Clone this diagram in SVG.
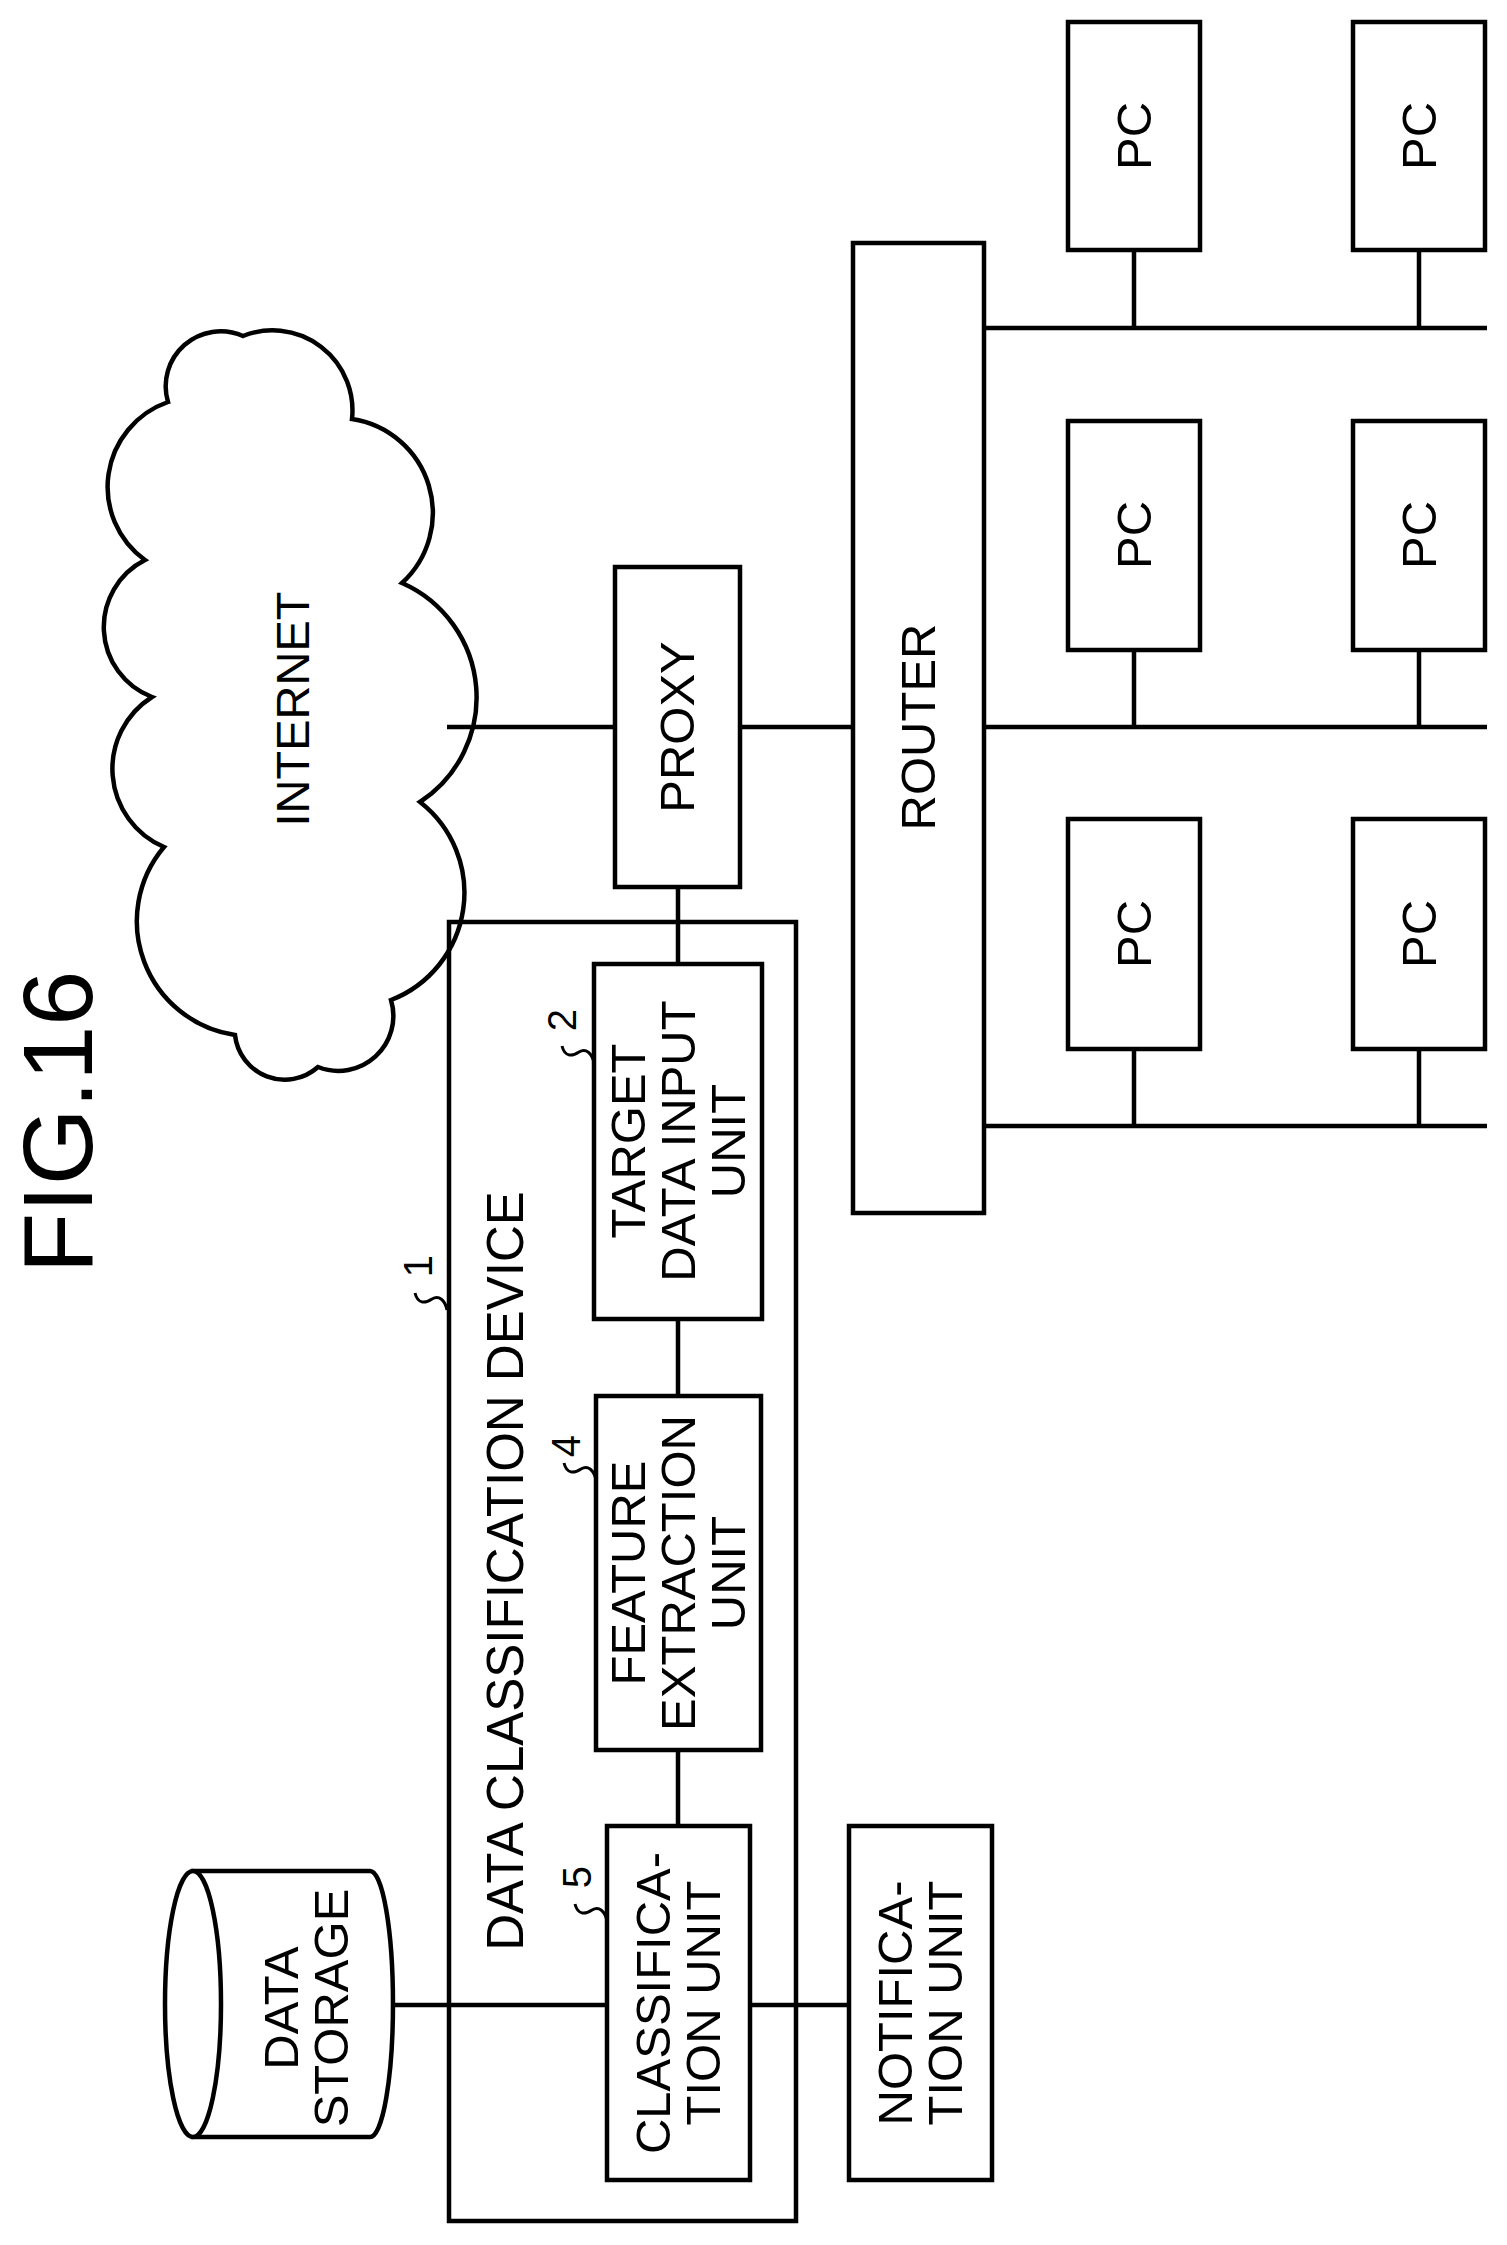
<svg xmlns="http://www.w3.org/2000/svg" width="1507" height="2245" viewBox="0 0 1507 2245">
<style>
.b{fill:#fff;stroke:#000;stroke-width:4.5}
.l{fill:none;stroke:#000;stroke-width:4.5}
.s{fill:none;stroke:#000;stroke-width:3}
text{font-family:"Liberation Sans",Arial,sans-serif;font-size:49px;text-anchor:middle;dominant-baseline:central;fill:#000}
.d{font-size:40px}
</style>
<rect width="1507" height="2245" fill="#fff"/>
<text transform="translate(57,1122) rotate(-90)" style="font-size:99px">FIG.16</text>
<g id="connectors">
<path class="l" d="M447,727H615M740,727H853M678,887V964M678,1319V1396M678,1750V1826M393,2005H607M750,2005H849"/>
<path class="l" d="M984,328H1487M984,727H1487M984,1126H1487M1134,250V328M1419,250V328M1134,650V727M1419,650V727M1134,1049V1126M1419,1049V1126"/>
</g>
<g id="internet">
<path class="l" d="M168,402 A55,55 0 0 1 243,336 A80,80 0 0 1 352,419 A95,95 0 0 1 402,583 A125,125 0 0 1 420,802 A115,115 0 0 1 391,1000 A55,55 0 0 1 318,1067 A50,50 0 0 1 235,1035 A115,115 0 0 1 164,847 A85,85 0 0 1 152,697 A75,75 0 0 1 145,560 A90,90 0 0 1 168,402 Z"/>
<text transform="translate(292,709) rotate(-90)" style="font-size:47px">INTERNET</text>
</g>
<g id="proxy"><rect class="b" x="615" y="567" width="125" height="320"/><text transform="translate(677,727) rotate(-90)">PROXY</text></g>
<g id="router"><rect class="b" x="853" y="243" width="131" height="970"/><text transform="translate(918,727) rotate(-90)">ROUTER</text></g>
<g id="pc1"><rect class="b" x="1068" y="22" width="132" height="228"/><text transform="translate(1134,136) rotate(-90)">PC</text></g>
<g id="pc2"><rect class="b" x="1353" y="22" width="132" height="228"/><text transform="translate(1419,136) rotate(-90)">PC</text></g>
<g id="pc3"><rect class="b" x="1068" y="421" width="132" height="229"/><text transform="translate(1134,535) rotate(-90)">PC</text></g>
<g id="pc4"><rect class="b" x="1353" y="421" width="132" height="229"/><text transform="translate(1419,535) rotate(-90)">PC</text></g>
<g id="pc5"><rect class="b" x="1068" y="819" width="132" height="230"/><text transform="translate(1134,934) rotate(-90)">PC</text></g>
<g id="pc6"><rect class="b" x="1353" y="819" width="132" height="230"/><text transform="translate(1419,934) rotate(-90)">PC</text></g>
<g id="device">
<rect class="l" x="449" y="922" width="347" height="1299"/>
<text transform="translate(505,1571) rotate(-90)" style="font-size:51px">DATA CLASSIFICATION DEVICE</text>
<path class="s" d="M447,1310 c-2,-10 -8,-15 -15,-11 c-6,4 -14,6 -17,-6"/>
<text class="d" transform="translate(418,1266) rotate(-90)">1</text>
</g>
<g id="target">
<rect class="b" x="594" y="964" width="168" height="355"/>
<text transform="translate(678,1141) rotate(-90)"><tspan x="0" y="-50">TARGET</tspan><tspan x="0" y="0">DATA INPUT</tspan><tspan x="0" y="50">UNIT</tspan></text>
<path class="s" d="M594,1063 c-2,-10 -8,-15 -15,-11 c-6,4 -14,6 -17,-6"/>
<text class="d" transform="translate(562,1020) rotate(-90)">2</text>
</g>
<g id="feature">
<rect class="b" x="596" y="1396" width="165" height="354"/>
<text transform="translate(678,1573) rotate(-90)"><tspan x="0" y="-50">FEATURE</tspan><tspan x="0" y="0">EXTRACTION</tspan><tspan x="0" y="50">UNIT</tspan></text>
<path class="s" d="M596,1480 c-2,-10 -8,-15 -15,-11 c-6,4 -14,6 -17,-6"/>
<text class="d" transform="translate(566,1446) rotate(-90)">4</text>
</g>
<g id="classification">
<rect class="b" x="607" y="1826" width="143" height="354"/>
<text transform="translate(678,2003) rotate(-90)"><tspan x="0" y="-25">CLASSIFICA-</tspan><tspan x="0" y="25">TION UNIT</tspan></text>
<path class="s" d="M607,1921 c-2,-10 -8,-15 -15,-11 c-6,4 -14,6 -17,-6"/>
<text class="d" transform="translate(577,1877) rotate(-90)">5</text>
</g>
<g id="notification">
<rect class="b" x="849" y="1826" width="143" height="354"/>
<text transform="translate(920,2003) rotate(-90)"><tspan x="0" y="-25">NOTIFICA-</tspan><tspan x="0" y="25">TION UNIT</tspan></text>
</g>
<g id="storage">
<path class="b" d="M193,1871 H370 A23,133 0 0 1 370,2137 H193 Z"/>
<ellipse class="b" cx="193" cy="2004" rx="28" ry="133"/>
<text transform="translate(306,2008) rotate(-90)"><tspan x="0" y="-25">DATA</tspan><tspan x="0" y="25">STORAGE</tspan></text>
</g>
</svg>
